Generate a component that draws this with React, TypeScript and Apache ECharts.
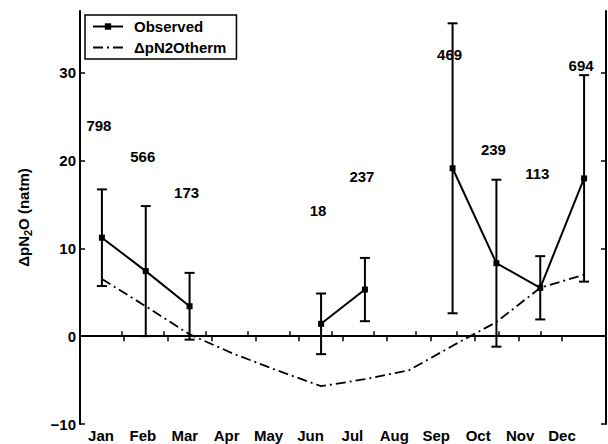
import { useEffect, useRef } from "react";
import * as echarts from "echarts";

const months = ["Jan", "Feb", "Mar", "Apr", "May", "Jun", "Jul", "Aug", "Sep", "Oct", "Nov", "Dec"];
// Observed monthly mean ΔpN2O (natm) and its standard deviation; null = no data
const observedMean = [11.2, 7.4, 3.4, null, null, 1.4, 5.3, null, 19.1, 8.3, 5.5, 17.95];
const observedStd = [5.5, 7.4, 3.8, null, null, 3.45, 3.6, null, 16.5, 9.5, 3.6, 11.75];
// Thermally driven ΔpN2O
const thermalDelta = [6.5, 3.4, 0.2, -2.0, -3.9, -5.7, -4.9, -3.9, -1.1, 1.6, 5.5, 7.0];
// Number of measurements per month and the height at which it is printed
const sampleCounts = [798, 566, 173, null, null, 18, 237, null, 469, 239, 113, 694];
const countLabelY = [24.0, 20.4, 16.3, null, null, 14.3, 18.2, null, 32.0, 21.2, 18.5, 30.8];
const yTicks = [-10, 0, 10, 20, 30];

const FONT = "'Liberation Sans', Arial, Helvetica, sans-serif";

export default function App() {
  const ref = useRef<HTMLDivElement>(null);

  useEffect(() => {
    if (!ref.current) return;
    const chart = echarts.init(ref.current, undefined, { renderer: "svg" });

    const observedData = months.map((_, i) => [i + 1, observedMean[i]]);
    const thermalData = months.map((_, i) => [i + 1, thermalDelta[i]]);
    const errorData: number[][] = [];
    months.forEach((_, i) => {
      const m = observedMean[i];
      const s = observedStd[i];
      if (m !== null && s !== null) errorData.push([i + 1, m - s, m + s]);
    });
    const countData: number[][] = [];
    months.forEach((_, i) => {
      const n = sampleCounts[i];
      const y = countLabelY[i];
      if (n !== null && y !== null) countData.push([i + 1, y, n]);
    });

    const axisLine = { show: true, lineStyle: { color: "#000", width: 2 } };
    const tickStyle = { color: "#000", width: 1.5 };

    chart.setOption({
      animation: false,
      backgroundColor: "#fff",
      textStyle: { fontFamily: FONT },
      grid: { left: 80, right: 2, top: 11, bottom: 20, containLabel: false },
      legend: {
        left: 85,
        top: 15,
        orient: "vertical",
        itemWidth: 30,
        itemHeight: 8,
        itemGap: 6,
        padding: [4, 10, 4, 7],
        borderColor: "#000",
        borderWidth: 1.5,
        backgroundColor: "#fff",
        textStyle: { color: "#000", fontSize: 15, fontWeight: "bold", fontFamily: FONT, padding: [0, 0, 0, 6] },
        data: [
          { name: "Observed" },
          { name: "ΔpN2Otherm", itemStyle: { opacity: 0, borderWidth: 0 } },
        ],
      },
      xAxis: [
        {
          type: "value",
          position: "top",
          min: 0.5,
          max: 12.5,
          axisLine,
          axisTick: { show: true, inside: true, length: 5, lineStyle: tickStyle, customValues: [1.5, 2.5, 3.5, 4.5, 5.5, 6.5, 7.5, 8.5, 9.5, 10.5, 11.5] },
          axisLabel: { show: false },
          splitLine: { show: false },
        },
        {
          type: "value",
          position: "bottom",
          min: 0,
          max: 12.55,
          axisLine,
          axisTick: { show: true, inside: true, length: 5, lineStyle: tickStyle, customValues: [1, 2, 3, 4, 5, 6, 7, 8, 9, 10, 11] },
          axisLabel: {
            show: true,
            customValues: months.map((_, i) => i + 0.5),
            formatter: (v: number) => months[Math.round(v - 0.5)] ?? "",
            color: "#000",
            fontSize: 15,
            fontWeight: "bold",
            fontFamily: FONT,
            margin: 4,
          },
          splitLine: { show: false },
        },
      ],
      yAxis: [
        {
          type: "value",
          position: "left",
          min: -10,
          max: 37,
          axisLine,
          axisTick: { show: true, inside: true, length: 5, lineStyle: tickStyle, customValues: yTicks },
          axisLabel: {
            show: true,
            customValues: yTicks,
            formatter: (v: number) => (v < 0 ? "\u2212" + Math.abs(v) : String(v)),
            color: "#000",
            fontSize: 15,
            fontWeight: "bold",
            fontFamily: FONT,
            margin: 4,
          },
          splitLine: { show: false },
          name: "{a|ΔpN}{s|2}{a|O (natm)}",
          nameLocation: "middle",
          nameGap: 47,
          nameTextStyle: {
            color: "#000",
            rich: {
              a: { fontSize: 15, fontWeight: "bold", fontFamily: FONT, color: "#000" },
              s: { fontSize: 11, fontWeight: "bold", fontFamily: FONT, color: "#000", padding: [9, 0, 0, 0] },
            },
          },
        },
        {
          type: "value",
          position: "right",
          min: -10,
          max: 37,
          axisLine,
          axisTick: { show: true, inside: true, length: 5, lineStyle: tickStyle, customValues: yTicks },
          axisLabel: { show: false },
          splitLine: { show: false },
        },
      ],
      series: [
        {
          name: "ΔpN2Otherm",
          type: "line",
          xAxisIndex: 0,
          yAxisIndex: 0,
          data: thermalData,
          symbol: "none",
          lineStyle: { color: "#000", width: 1.8, type: [10, 4, 2, 4] },
          itemStyle: { color: "#000" },
          z: 2,
        },
        {
          name: "errorbars",
          type: "custom",
          xAxisIndex: 0,
          yAxisIndex: 0,
          data: errorData,
          encode: { x: 0, y: [1, 2] },
          renderItem: (_params: any, api: any) => {
            const x = api.value(0);
            const lo = api.coord([x, api.value(1)]);
            const hi = api.coord([x, api.value(2)]);
            const cap = 5;
            const style = { stroke: "#000", lineWidth: 2 };
            return {
              type: "group",
              children: [
                { type: "line", shape: { x1: lo[0], y1: lo[1], x2: hi[0], y2: hi[1] }, style },
                { type: "line", shape: { x1: lo[0] - cap, y1: lo[1], x2: lo[0] + cap, y2: lo[1] }, style },
                { type: "line", shape: { x1: hi[0] - cap, y1: hi[1], x2: hi[0] + cap, y2: hi[1] }, style },
              ],
            };
          },
          z: 3,
        },
        {
          name: "Observed",
          type: "line",
          xAxisIndex: 0,
          yAxisIndex: 0,
          data: observedData,
          connectNulls: false,
          symbol: "rect",
          symbolSize: 6,
          showAllSymbol: true,
          lineStyle: { color: "#000", width: 2 },
          itemStyle: { color: "#000" },
          markLine: {
            silent: true,
            symbol: ["none", "none"],
            label: { show: false },
            lineStyle: { color: "#000", width: 2, type: "solid" },
            data: [{ yAxis: 0 }],
          },
          z: 4,
        },
        {
          name: "counts",
          type: "custom",
          xAxisIndex: 0,
          yAxisIndex: 0,
          data: countData,
          encode: { x: 0, y: 1 },
          renderItem: (_params: any, api: any) => {
            const p = api.coord([api.value(0), api.value(1)]);
            return {
              type: "text",
              x: p[0] - 3,
              y: p[1],
              style: {
                text: String(api.value(2)),
                fill: "#000",
                fontSize: 15,
                fontWeight: "bold",
                fontFamily: FONT,
                align: "center",
                verticalAlign: "middle",
                textAlign: "center",
                textVerticalAlign: "middle",
              },
            };
          },
          z: 5,
        },
      ],
    });

    return () => chart.dispose();
  }, []);

  return (
    <div
      ref={ref}
      style={{ position: "fixed", left: 0, top: 0, width: 608, height: 444, background: "#fff" }}
    />
  );
}
